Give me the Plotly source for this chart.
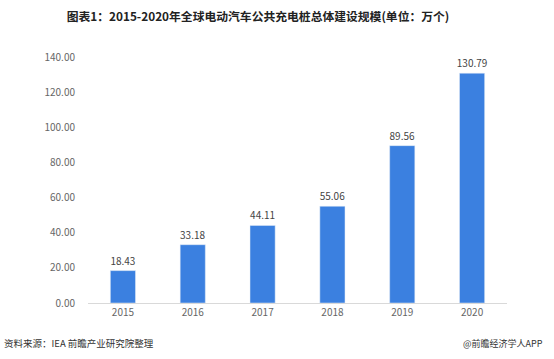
import plotly.graph_objects as go

years = ["2015", "2016", "2017", "2018", "2019", "2020"]
values = [18.43, 33.18, 44.11, 55.06, 89.56, 130.79]
y_ticks = [0, 20, 40, 60, 80, 100, 120, 140]

fig = go.Figure(go.Bar(
    x=years, y=values,
    marker_color="#3b80e0",
    width=0.36,
    text=[f"{v:.2f}" for v in values],
    textposition="outside",
    constraintext="none",
    textfont=dict(size=10, color="#444"),
    cliponaxis=False,
))

pw, ph = 554 - 88 - 47, 359 - 57 - 56
def px(x): return (x - 88) / pw
def py(y): return (303 - y) / ph

fig.update_layout(
    width=554, height=359,
    margin=dict(l=88, r=47, t=57, b=56, autoexpand=False),
    paper_bgcolor="white", plot_bgcolor="white",
    font=dict(family="Noto Sans CJK SC, sans-serif"),
    showlegend=False,
    title=dict(text="<b>图表1：2015-2020年全球电动汽车公共充电桩总体建设规模(单位：万个)</b>",
               x=258 / 554, xanchor="center", y=1 - 17 / 359, yanchor="middle",
               font=dict(size=11.8, color="#222")),
    xaxis=dict(showline=True, linecolor="#d9d9d9", linewidth=1, ticks="",
               automargin=False, tickfont=dict(size=10, color="#666")),
    yaxis=dict(range=[0, 140], tickvals=y_ticks, tickformat=".2f",
               showgrid=False, zeroline=False, showline=False, automargin=False,
               tickfont=dict(size=10, color="#666"), ticklabelstandoff=12),
    annotations=[
        dict(text="资料来源：IEA 前瞻产业研究院整理",
             x=px(2), y=py(343), xref="paper", yref="paper", showarrow=False,
             xanchor="left", yanchor="middle", font=dict(size=9.5, color="#333")),
        dict(text="@前瞻经济学人APP",
             x=px(545), y=py(343), xref="paper", yref="paper", showarrow=False,
             xanchor="right", yanchor="middle", font=dict(size=9, color="#333")),
    ],
)

fig.write_html("out.html", config={"displayModeBar": False},
               post_script="document.body.style.margin='0';document.body.style.overflow='hidden';")
